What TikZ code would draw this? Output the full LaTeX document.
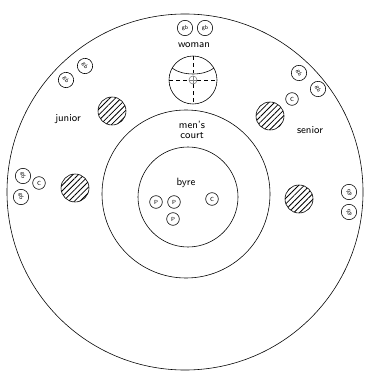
\documentclass[tikz,border=0pt]{standalone}
\usepackage{tikz}
\usetikzlibrary{patterns.meta}

\begin{document}
\begin{tikzpicture}[x=0.03cm, y=-0.03cm, line width=0.5pt,
    ring/.style={draw, circle, inner sep=0pt},
    stall/.style={ring, minimum size=0.84cm,
      pattern={Lines[angle=45, distance=3.4pt, line width=0.7pt]}},
    beast/.style={ring, minimum size=0.46cm, font=\sffamily\tiny},
    calf/.style={ring, minimum size=0.38cm, font=\sffamily\tiny},
    zone/.style={font=\sffamily\small, align=center}]

  \useasboundingbox (0,0) rectangle (366,377);

  % the three rings of the house
  \node[ring, minimum size=10.68cm] (outer) at (185,192) {};
  \node[ring, minimum size=5.04cm]  (court) at (186,194) {};
  \node[ring, minimum size=3.0cm]   (byre)  at (188,197) {};

  % the women's hearth
  \node[ring, minimum size=1.44cm] (hearth) at (193,80) {};
  \draw (172,68) .. controls (182,76) and (204,76) .. (214,68);
  \draw[dashed] (193,56) -- (193,73);
  \draw[dashed] (169,80) -- (189,80)
                (197,80) -- (217,80)
                (193,84) -- (193,104);
  \node[ring, minimum size=0.24cm, draw=gray] (fire) at (193,80) {};
  \draw[gray] (fire.north) -- (fire.south)
              (fire.west) -- (fire.east);

  % hatched stalls
  \node[stall] (jstall)  at (112,111) {};
  \node[stall] (sstall)  at (270,116) {};
  \node[stall] (lstall)  at (75,188)  {};
  \node[stall] (rstall)  at (299,199) {};

  % labels
  \node[zone] (woman)  at (194,45)  {woman};
  \node[zone] (junior) at (68,119)  {junior};
  \node[zone] (senior) at (310,130) {senior};
  \node[zone] (mens)   at (192,130) {men's\\[-2pt]court};
  \node[zone] (byrel)  at (186,183) {byre};

  % goats and beasts round the wall
  \node[beast] (gb1)  at (185,28)  {gb};
  \node[beast] (gb2)  at (205,28)  {gb};
  \node[beast, rotate=-60] (gb3) at (66,80)  {gb};
  \node[beast, rotate=-60] (gb4) at (85,66)  {gb};
  \node[beast, rotate=-70] (gb5) at (299,73) {gb};
  \node[beast, rotate=-70] (gb6) at (318,89) {gb};
  \node[beast, rotate=-90] (gb7) at (23,176) {gb};
  \node[beast, rotate=-90] (gb8) at (21,197) {gb};
  \node[beast, rotate=90]  (gb9) at (349,192) {gb};
  \node[beast, rotate=90]  (gb10) at (349,212) {gb};

  % calves
  \node[calf] (c1) at (292,99)  {C};
  \node[calf] (c2) at (39,183)  {C};
  \node[calf] (c3) at (212,199) {C};

  % pigs in the byre
  \node[calf] (p1) at (156,202) {P};
  \node[calf] (p2) at (174,202) {P};
  \node[calf] (p3) at (173,219) {P};

\end{tikzpicture}
\end{document}
